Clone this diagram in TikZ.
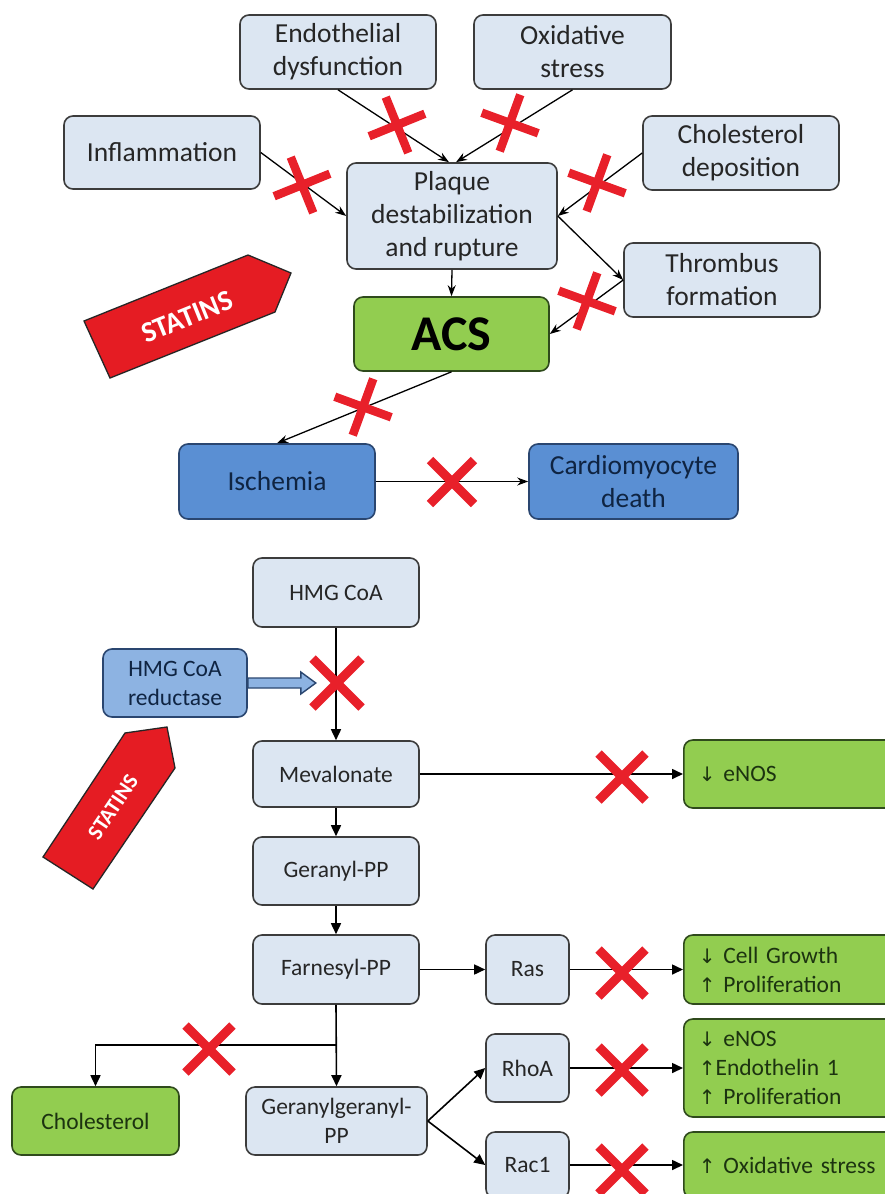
\documentclass[tikz,border=0pt]{standalone}
\usepackage{fontspec}
\setmainfont{Carlito}
\newfontfamily\arrfont{DejaVu Sans}
\usetikzlibrary{shapes.misc,arrows.meta}
\definecolor{lb}{HTML}{DCE6F2}
\definecolor{bgray}{HTML}{3C3C3C}
\definecolor{txtgray}{HTML}{262626}
\definecolor{gfill}{HTML}{92CD50}
\definecolor{gborder}{HTML}{2F4A1C}
\definecolor{gtext}{HTML}{1C3310}
\definecolor{bfill}{HTML}{5A8FD3}
\definecolor{bborder}{HTML}{2A4670}
\definecolor{btext}{HTML}{0F2442}
\definecolor{rfill}{HTML}{8DB3E2}
\definecolor{xred}{HTML}{E8202A}
\definecolor{sred}{HTML}{E51C23}
\newcommand{\myDown}{{\arrfont\fontsize{20}{29}\selectfont ↓}}
\newcommand{\myUp}{{\arrfont\fontsize{20}{29}\selectfont ↑}}
\begin{document}
\begin{tikzpicture}[x=1pt,y=-1pt,
  box/.style={draw=bgray, fill=lb, rounded corners=9pt, line width=1.6pt, align=center, inner sep=0pt, text=txtgray},
  topf/.style={font=\fontsize{27.5}{33}\selectfont},
  lowf/.style={font=\fontsize{23.5}{29}\selectfont},
  gbox/.style={box, fill=gfill, draw=gborder, text=gtext},
  gright/.style={gbox, lowf, anchor=west, align=left, text width=230pt, inner xsep=15pt, inner ysep=0pt},
  bbox/.style={box, fill=bfill, draw=bborder, text=btext},
  topar/.style={-{Stealth[length=11pt,width=8pt]}, line width=1.3pt, black},
  lowar/.style={-{Triangle[length=11pt,width=10pt]}, line width=1.6pt, black},
  redx/.style={cross out, draw=xred, line width=9pt, minimum size=38pt, inner sep=0pt},
  redp/.style={cross out, draw=xred, line width=8.5pt, minimum size=34pt, inner sep=0pt},
  statins/.style={fill=sred, draw=black!85, line width=1.3pt, line join=miter},
  stattext/.style={text=white, font=\bfseries}
]
\useasboundingbox (0,0) rectangle (884,1194);
\fill[white] (0,0) rectangle (884,1194);
\clip (-10,-10) rectangle (900,1210);

% ---------- top part ----------
\node[box, topf, minimum width=196pt, minimum height=74pt] (endo) at (338,52) {Endothelial\\dysfunction};
\node[box, topf, minimum width=197pt, minimum height=74pt] (oxi) at (572.5,52) {Oxidative\\stress};
\node[box, topf, minimum width=196pt, minimum height=73pt] (infl) at (162,152.5) {Inflammation};
\node[box, topf, minimum width=196pt, minimum height=74pt] (chol) at (741,153) {Cholesterol\\deposition};
\node[box, topf, minimum width=210pt, minimum height=106pt] (plaque) at (452,216) {Plaque\\destabilization\\and rupture};
\node[box, topf, minimum width=196pt, minimum height=74pt] (thromb) at (722,280) {Thrombus\\formation};
\node[gbox, font=\fontsize{50}{56}\selectfont\bfseries, text=black, minimum width=195pt, minimum height=74pt] (acs) at (451.5,334) {ACS};
\node[bbox, topf, minimum width=196pt, minimum height=75pt] (isch) at (277,481.5) {Ischemia};
\node[bbox, topf, minimum width=209pt, minimum height=75pt] (cardio) at (633.5,481.5) {Cardiomyocyte\\death};

\draw[topar] (endo.south) -- ([xshift=-3pt]plaque.north);
\draw[topar] (oxi.south) -- ([xshift=4pt]plaque.north);
\draw[topar] (infl.east) -- (plaque.west);
\draw[topar] (chol.west) -- (plaque.east);
\draw[topar] (plaque.east) -- (thromb.west);
\draw[topar] (thromb.west) -- (acs.east);
\draw[topar] (plaque.south) -- (acs.north);
\draw[topar] (acs.south) -- (isch.north);
\draw[topar] (isch.east) -- (cardio.west);

\node[redp, rotate=67] (x1) at (397,125) {};
\node[redp, rotate=25] (x2) at (510,123) {};
\node[redp, rotate=67] (x3) at (302,185) {};
\node[redp, rotate=25] (x4) at (597,183) {};
\node[redp, rotate=25] (x5) at (587,301) {};
\node[redp, rotate=25] (x6) at (363,407) {};
\node[redx, minimum size=35pt] (x7) at (452,482) {};

\draw[statins] (84,321) -- (248,255) -- (291,273) -- (275,312) -- (110,378) -- cycle;
\node[stattext, rotate=22, font=\fontsize{29}{30}\selectfont\bfseries] (st1) at (187,317) {STATINS};

% ---------- bottom part ----------
\node[box, lowf, minimum width=166pt, minimum height=69pt] (hmg) at (336,592.5) {HMG CoA};
\node[box, lowf, fill=rfill, draw=bborder, text=btext, minimum width=144pt, minimum height=68pt] (red) at (175,683) {HMG CoA\\reductase};
\node[box, lowf, minimum width=166pt, minimum height=66pt] (mev) at (336,774) {Mevalonate};
\node[box, lowf, minimum width=166pt, minimum height=68pt] (ger) at (336,871) {Geranyl-PP};
\node[box, lowf, minimum width=166pt, minimum height=69pt] (far) at (336,969.5) {Farnesyl-PP};
\node[box, lowf, minimum width=83pt, minimum height=69pt] (ras) at (527.5,969.5) {Ras};
\node[box, lowf, minimum width=83pt, minimum height=68pt] (rhoa) at (527.5,1068) {RhoA};
\node[box, lowf, minimum width=83pt, minimum height=66pt] (rac) at (527.5,1165) {Rac1};
\node[box, lowf, minimum width=181pt, minimum height=68pt] (gg) at (336.5,1121) {Geranylgeranyl-\\PP};
\node[gbox, lowf, minimum width=167pt, minimum height=68pt] (cholb) at (95.5,1121) {Cholesterol};
\node[gright, minimum height=68pt] (enos) at (683,774) {\myDown\ eNOS};
\node[gright, minimum height=69pt] (growth) at (683,969.5) {\myDown\ Cell Growth\\\myUp\ Proliferation};
\node[gright, minimum height=98pt] (rhoag) at (683,1068) {\myDown\ eNOS\\\myUp Endothelin 1\\\myUp\ Proliferation};
\node[gright, minimum height=66pt] (oxg) at (683,1165) {\myUp\ Oxidative stress};

\draw[lowar] (hmg.south) -- (mev.north);
\draw[lowar] (mev.east) -- (enos.west);
\draw[lowar] (mev.south) -- (ger.north);
\draw[lowar] (ger.south) -- (far.north);
\draw[lowar] (far.east) -- (ras.west);
\draw[lowar] (ras.east) -- (growth.west);
\draw[lowar] (far.south) -- (gg.north);
\coordinate (br) at (336,1045);
\draw[lowar] (br) -| (cholb.north);
\draw[lowar] (gg.east) -- (rhoa.west);
\draw[lowar] (gg.east) -- (rac.west);
\draw[lowar] (rhoa.east) -- (rhoag.west);
\draw[lowar] (rac.east) -- (oxg.west);

\draw[fill=rfill, draw=bborder, line width=1.4pt, line join=miter] (red.east) ++(0,-5) -- ++(53,0) -- ++(0,-6) -- ++(15,11) -- ++(-15,11) -- ++(0,-6) -- ++(-53,0) -- cycle;

\node[redx, minimum size=40pt] (x8) at (337,683) {};
\node[redx] (x9) at (622,777) {};
\node[redx] (x10) at (622,973) {};
\node[redx] (x11) at (622,1070) {};
\node[redx] (x12) at (622,1170) {};
\node[redx] (x13) at (209,1049) {};

\draw[statins] (43,857) -- (125,733) -- (167,727) -- (175,768) -- (93,889) -- cycle;
\node[stattext, rotate=56, font=\fontsize{22}{24}\selectfont\bfseries] (st2) at (113,807) {STATINS};
\end{tikzpicture}
\end{document}
